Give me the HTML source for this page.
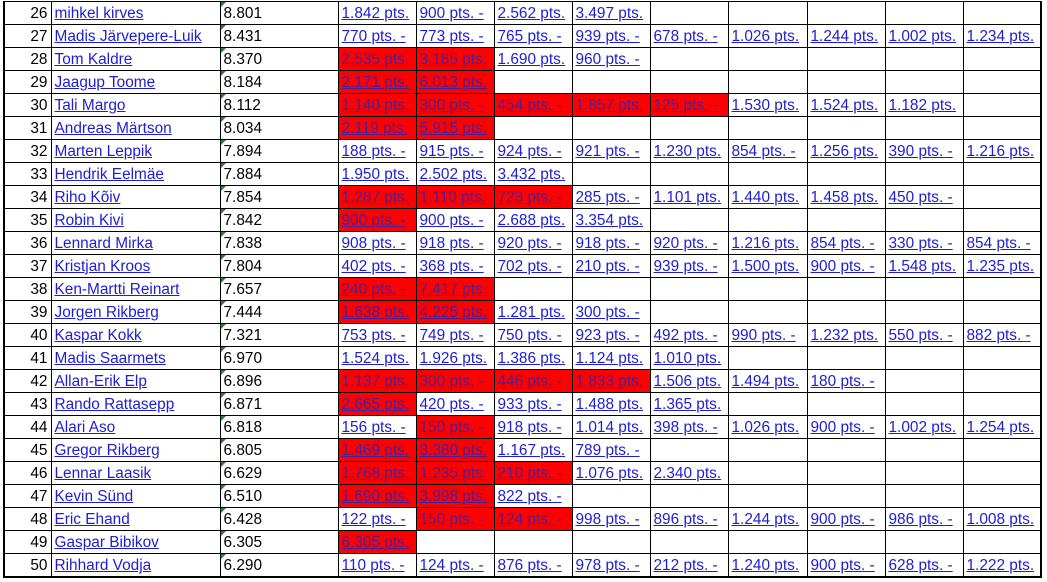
<!DOCTYPE html>
<html><head><meta charset="utf-8"><style>
html,body{margin:0;padding:0;background:#fff;width:1047px;height:582px;overflow:hidden}
table{position:absolute;left:3px;top:1px;border-collapse:collapse;table-layout:fixed;font-family:"Liberation Sans",sans-serif;font-size:15.4px}
td{border:1px solid #000;height:22px;padding:1px 0 0 3px;white-space:nowrap;overflow:hidden;color:#1d1dd6;text-decoration:underline;line-height:21px;position:relative;box-sizing:border-box}
td.n{text-align:right;padding:1px 3px 0 0;color:#000;text-decoration:none}
td.s{color:#000;text-decoration:none}
td.s:before{content:"";position:absolute;left:0;top:0;border-top:5px solid #1e8a1e;border-right:5px solid transparent}
td.r{background:#ff0000;color:#4a1f9a}
td.e{text-decoration:none}
tr{height:23px}
table{border-left:2px solid #000;border-right:2px solid #000;border-bottom:2px solid #000}
</style></head><body>
<table>
<colgroup><col style="width:47px"><col style="width:169px"><col style="width:118px"><col style="width:78px"><col style="width:78px"><col style="width:78px"><col style="width:78px"><col style="width:78px"><col style="width:79px"><col style="width:78px"><col style="width:78px"><col style="width:78px"></colgroup>
<tr><td class="n">26</td><td>mihkel kirves</td><td class="s">8.801</td><td>1.842 pts.</td><td>900 pts. -</td><td>2.562 pts.</td><td>3.497 pts.</td><td class="e"></td><td class="e"></td><td class="e"></td><td class="e"></td><td class="e"></td></tr>
<tr><td class="n">27</td><td>Madis Järvepere-Luik</td><td class="s">8.431</td><td>770 pts. -</td><td>773 pts. -</td><td>765 pts. -</td><td>939 pts. -</td><td>678 pts. -</td><td>1.026 pts.</td><td>1.244 pts.</td><td>1.002 pts.</td><td>1.234 pts.</td></tr>
<tr><td class="n">28</td><td>Tom Kaldre</td><td class="s">8.370</td><td class="r">2.535 pts.</td><td class="r">3.185 pts.</td><td>1.690 pts.</td><td>960 pts. -</td><td class="e"></td><td class="e"></td><td class="e"></td><td class="e"></td><td class="e"></td></tr>
<tr><td class="n">29</td><td>Jaagup Toome</td><td class="s">8.184</td><td class="r">2.171 pts.</td><td class="r">6.013 pts.</td><td class="e"></td><td class="e"></td><td class="e"></td><td class="e"></td><td class="e"></td><td class="e"></td><td class="e"></td></tr>
<tr><td class="n">30</td><td>Tali Margo</td><td class="s">8.112</td><td class="r">1.140 pts.</td><td class="r">300 pts. -</td><td class="r">454 pts. -</td><td class="r">1.857 pts.</td><td class="r">125 pts. -</td><td>1.530 pts.</td><td>1.524 pts.</td><td>1.182 pts.</td><td class="e"></td></tr>
<tr><td class="n">31</td><td>Andreas Märtson</td><td class="s">8.034</td><td class="r">2.119 pts.</td><td class="r">5.915 pts.</td><td class="e"></td><td class="e"></td><td class="e"></td><td class="e"></td><td class="e"></td><td class="e"></td><td class="e"></td></tr>
<tr><td class="n">32</td><td>Marten Leppik</td><td class="s">7.894</td><td>188 pts. -</td><td>915 pts. -</td><td>924 pts. -</td><td>921 pts. -</td><td>1.230 pts.</td><td>854 pts. -</td><td>1.256 pts.</td><td>390 pts. -</td><td>1.216 pts.</td></tr>
<tr><td class="n">33</td><td>Hendrik Eelmäe</td><td class="s">7.884</td><td>1.950 pts.</td><td>2.502 pts.</td><td>3.432 pts.</td><td class="e"></td><td class="e"></td><td class="e"></td><td class="e"></td><td class="e"></td><td class="e"></td></tr>
<tr><td class="n">34</td><td>Riho Kõiv</td><td class="s">7.854</td><td class="r">1.287 pts.</td><td class="r">1.110 pts.</td><td class="r">723 pts. -</td><td>285 pts. -</td><td>1.101 pts.</td><td>1.440 pts.</td><td>1.458 pts.</td><td>450 pts. -</td><td class="e"></td></tr>
<tr><td class="n">35</td><td>Robin Kivi</td><td class="s">7.842</td><td class="r">900 pts. -</td><td>900 pts. -</td><td>2.688 pts.</td><td>3.354 pts.</td><td class="e"></td><td class="e"></td><td class="e"></td><td class="e"></td><td class="e"></td></tr>
<tr><td class="n">36</td><td>Lennard Mirka</td><td class="s">7.838</td><td>908 pts. -</td><td>918 pts. -</td><td>920 pts. -</td><td>918 pts. -</td><td>920 pts. -</td><td>1.216 pts.</td><td>854 pts. -</td><td>330 pts. -</td><td>854 pts. -</td></tr>
<tr><td class="n">37</td><td>Kristjan Kroos</td><td class="s">7.804</td><td>402 pts. -</td><td>368 pts. -</td><td>702 pts. -</td><td>210 pts. -</td><td>939 pts. -</td><td>1.500 pts.</td><td>900 pts. -</td><td>1.548 pts.</td><td>1.235 pts.</td></tr>
<tr><td class="n">38</td><td>Ken-Martti Reinart</td><td class="s">7.657</td><td class="r">240 pts. -</td><td class="r">7.417 pts.</td><td class="e"></td><td class="e"></td><td class="e"></td><td class="e"></td><td class="e"></td><td class="e"></td><td class="e"></td></tr>
<tr><td class="n">39</td><td>Jorgen Rikberg</td><td class="s">7.444</td><td class="r">1.638 pts.</td><td class="r">4.225 pts.</td><td>1.281 pts.</td><td>300 pts. -</td><td class="e"></td><td class="e"></td><td class="e"></td><td class="e"></td><td class="e"></td></tr>
<tr><td class="n">40</td><td>Kaspar Kokk</td><td class="s">7.321</td><td>753 pts. -</td><td>749 pts. -</td><td>750 pts. -</td><td>923 pts. -</td><td>492 pts. -</td><td>990 pts. -</td><td>1.232 pts.</td><td>550 pts. -</td><td>882 pts. -</td></tr>
<tr><td class="n">41</td><td>Madis Saarmets</td><td class="s">6.970</td><td>1.524 pts.</td><td>1.926 pts.</td><td>1.386 pts.</td><td>1.124 pts.</td><td>1.010 pts.</td><td class="e"></td><td class="e"></td><td class="e"></td><td class="e"></td></tr>
<tr><td class="n">42</td><td>Allan-Erik Elp</td><td class="s">6.896</td><td class="r">1.137 pts.</td><td class="r">300 pts. -</td><td class="r">446 pts. -</td><td class="r">1.833 pts.</td><td>1.506 pts.</td><td>1.494 pts.</td><td>180 pts. -</td><td class="e"></td><td class="e"></td></tr>
<tr><td class="n">43</td><td>Rando Rattasepp</td><td class="s">6.871</td><td class="r">2.665 pts.</td><td>420 pts. -</td><td>933 pts. -</td><td>1.488 pts.</td><td>1.365 pts.</td><td class="e"></td><td class="e"></td><td class="e"></td><td class="e"></td></tr>
<tr><td class="n">44</td><td>Alari Aso</td><td class="s">6.818</td><td>156 pts. -</td><td class="r">150 pts. -</td><td>918 pts. -</td><td>1.014 pts.</td><td>398 pts. -</td><td>1.026 pts.</td><td>900 pts. -</td><td>1.002 pts.</td><td>1.254 pts.</td></tr>
<tr><td class="n">45</td><td>Gregor Rikberg</td><td class="s">6.805</td><td class="r">1.469 pts.</td><td class="r">3.380 pts.</td><td>1.167 pts.</td><td>789 pts. -</td><td class="e"></td><td class="e"></td><td class="e"></td><td class="e"></td><td class="e"></td></tr>
<tr><td class="n">46</td><td>Lennar Laasik</td><td class="s">6.629</td><td class="r">1.768 pts.</td><td class="r">1.235 pts.</td><td class="r">210 pts. -</td><td>1.076 pts.</td><td>2.340 pts.</td><td class="e"></td><td class="e"></td><td class="e"></td><td class="e"></td></tr>
<tr><td class="n">47</td><td>Kevin Sünd</td><td class="s">6.510</td><td class="r">1.690 pts.</td><td class="r">3.998 pts.</td><td>822 pts. -</td><td class="e"></td><td class="e"></td><td class="e"></td><td class="e"></td><td class="e"></td><td class="e"></td></tr>
<tr><td class="n">48</td><td>Eric Ehand</td><td class="s">6.428</td><td>122 pts. -</td><td class="r">150 pts. -</td><td class="r">124 pts. -</td><td>998 pts. -</td><td>896 pts. -</td><td>1.244 pts.</td><td>900 pts. -</td><td>986 pts. -</td><td>1.008 pts.</td></tr>
<tr><td class="n">49</td><td>Gaspar Bibikov</td><td class="s">6.305</td><td class="r">6.305 pts.</td><td class="e"></td><td class="e"></td><td class="e"></td><td class="e"></td><td class="e"></td><td class="e"></td><td class="e"></td><td class="e"></td></tr>
<tr><td class="n">50</td><td>Rihhard Vodja</td><td class="s">6.290</td><td>110 pts. -</td><td>124 pts. -</td><td>876 pts. -</td><td>978 pts. -</td><td>212 pts. -</td><td>1.240 pts.</td><td>900 pts. -</td><td>628 pts. -</td><td>1.222 pts.</td></tr>
</table>
</body></html>
